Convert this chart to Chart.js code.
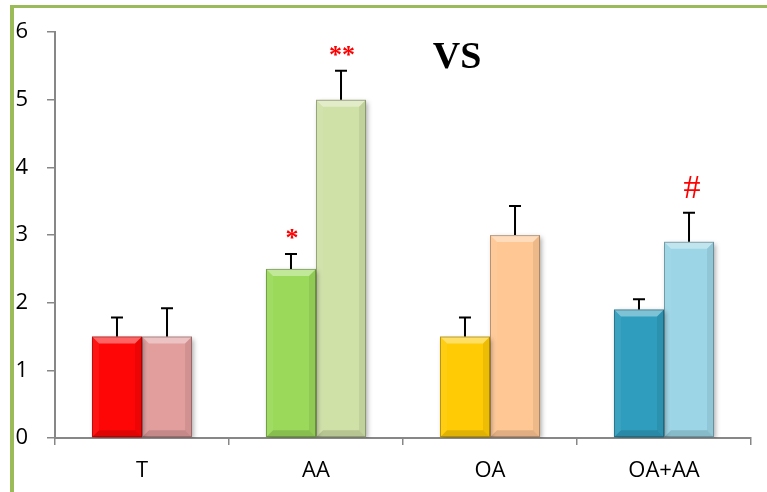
<!DOCTYPE html>
<html>
<head>
<meta charset="utf-8">
<title>VS</title>
<script src="https://cdn.jsdelivr.net/npm/chart.js@4"></script>
<style>
  html, body { margin: 0; padding: 0; background: #ffffff; }
  #wrap { position: relative; width: 767px; height: 492px; }
</style>
</head>
<body>
<div id="wrap"><canvas id="chart" width="767" height="492"></canvas></div>
<script>
// Groups along the x axis
const categories = ['T', 'AA', 'OA', 'OA+AA'];

// First bar of each group (saturated colour) and its error
const firstValues = [1.5, 2.5, 1.5, 1.9];
const firstErrors = [0.28, 0.22, 0.28, 0.15];
const firstMarks  = ['', '*', '', ''];

// Second bar of each group (pale colour) and its error
const secondValues = [1.5, 5.0, 3.0, 2.9];
const secondErrors = [0.42, 0.43, 0.43, 0.43];
const secondMarks  = ['', '**', '', '#'];

// Value axis ticks
const yTicks = [0, 1, 2, 3, 4, 5, 6];

const chartTitle = 'VS';

const firstColors  = ['#ff0606', '#9bd95a', '#ffcb05', '#2f9dbd'];
const secondColors = ['#e29d9d', '#d0e1a7', '#ffc794', '#9bd5e6'];

const AXIS_GREY = '#878787';
const BORDER_GREEN = '#9bbb59';

// Green frame lines along the top and left of the figure
const framePlugin = {
  id: 'frame',
  beforeDraw(chart) {
    const ctx = chart.ctx;
    ctx.save();
    ctx.fillStyle = '#ffffff';
    ctx.fillRect(0, 0, chart.width, chart.height);
    ctx.fillStyle = BORDER_GREEN;
    ctx.fillRect(10, 5, chart.width - 10, 3);
    ctx.fillRect(10, 5, 4, chart.height - 5);
    ctx.restore();
  }
};

// Soft drop shadow under the bars
const shadowPlugin = {
  id: 'barShadow',
  beforeDatasetsDraw(chart) {
    const ctx = chart.ctx;
    ctx.save();
    ctx.shadowColor = 'rgba(0,0,0,0.35)';
    ctx.shadowBlur = 5;
    ctx.shadowOffsetX = 2;
    ctx.shadowOffsetY = 2;
  },
  afterDatasetsDraw(chart) {
    chart.ctx.restore();
  }
};

// Bevelled faces, error bars and significance marks
const decorPlugin = {
  id: 'decor',
  afterDatasetsDraw(chart) {
    const ctx = chart.ctx;
    const yScale = chart.scales.y;
    const errorSets = [firstErrors, secondErrors];
    const valueSets = [firstValues, secondValues];
    const markSets = [firstMarks, secondMarks];

    chart.data.datasets.forEach((ds, di) => {
      const meta = chart.getDatasetMeta(di);
      meta.data.forEach((bar, i) => {
        const w = bar.width;
        const L = bar.x - w / 2, R = bar.x + w / 2;
        const T = bar.y, B = bar.base;
        const b = 7;
        ctx.save();
        // top bevel (lit)
        ctx.fillStyle = 'rgba(255,255,255,0.38)';
        ctx.beginPath();
        ctx.moveTo(L, T); ctx.lineTo(R, T); ctx.lineTo(R - b, T + b); ctx.lineTo(L + b, T + b);
        ctx.closePath(); ctx.fill();
        // left bevel
        ctx.fillStyle = 'rgba(255,255,255,0.06)';
        ctx.beginPath();
        ctx.moveTo(L, T); ctx.lineTo(L + b, T + b); ctx.lineTo(L + b, B - b); ctx.lineTo(L, B);
        ctx.closePath(); ctx.fill();
        // right bevel
        ctx.fillStyle = 'rgba(0,0,0,0.07)';
        ctx.beginPath();
        ctx.moveTo(R, T); ctx.lineTo(R - b, T + b); ctx.lineTo(R - b, B - b); ctx.lineTo(R, B);
        ctx.closePath(); ctx.fill();
        // bottom bevel (shaded)
        ctx.fillStyle = 'rgba(0,0,0,0.12)';
        ctx.beginPath();
        ctx.moveTo(L, B); ctx.lineTo(R, B); ctx.lineTo(R - b, B - b); ctx.lineTo(L + b, B - b);
        ctx.closePath(); ctx.fill();
        // outline
        ctx.strokeStyle = 'rgba(0,0,0,0.28)';
        ctx.lineWidth = 1;
        ctx.strokeRect(L + 0.5, T + 0.5, w - 1, B - T - 1);
        ctx.restore();

        // error bar
        const v = valueSets[di][i];
        const e = errorSets[di][i];
        const yTop = yScale.getPixelForValue(v + e);
        ctx.save();
        ctx.strokeStyle = '#000000';
        ctx.lineWidth = 2;
        ctx.beginPath();
        ctx.moveTo(bar.x, T);
        ctx.lineTo(bar.x, yTop);
        ctx.moveTo(bar.x - 6, yTop);
        ctx.lineTo(bar.x + 6, yTop);
        ctx.stroke();
        ctx.restore();

        // significance mark
        const mark = markSets[di][i];
        if (mark) {
          ctx.save();
          ctx.fillStyle = '#ff0000';
          ctx.textAlign = 'center';
          ctx.textBaseline = 'alphabetic';
          if (mark === '#') {
            ctx.font = '34px "Liberation Serif", serif';
            ctx.fillText(mark, bar.x + 3, yTop - 15);
          } else {
            ctx.font = 'bold 26px "Liberation Serif", serif';
            ctx.fillText(mark, bar.x + 1, yTop - 8);
          }
          ctx.restore();
        }
      });
    });

    // title
    ctx.save();
    ctx.fillStyle = '#000000';
    ctx.font = 'bold 38px "Liberation Serif", serif';
    ctx.textAlign = 'center';
    ctx.textBaseline = 'alphabetic';
    ctx.fillText(chartTitle, 457, 68);
    ctx.restore();
  }
};

new Chart(document.getElementById('chart'), {
  type: 'bar',
  data: {
    labels: categories,
    datasets: [
      {
        data: firstValues,
        backgroundColor: firstColors,
        borderWidth: 0,
        categoryPercentage: 0.575,
        barPercentage: 1.0
      },
      {
        data: secondValues,
        backgroundColor: secondColors,
        borderWidth: 0,
        categoryPercentage: 0.575,
        barPercentage: 1.0
      }
    ]
  },
  options: {
    responsive: false,
    animation: false,
    devicePixelRatio: 1,
    layout: { padding: { left: 14, right: 16, top: 31, bottom: 8 } },
    plugins: {
      legend: { display: false },
      tooltip: { enabled: false },
      title: { display: false }
    },
    scales: {
      x: {
        offset: true,
        grid: {
          offset: true,
          drawOnChartArea: false,
          drawTicks: true,
          tickLength: 7,
          color: AXIS_GREY,
          lineWidth: 1.5
        },
        border: { display: true, color: AXIS_GREY, width: 2 },
        ticks: {
          color: '#000000',
          padding: 13,
          font: { family: '"Open Sans", sans-serif', size: 22 }
        },
        afterFit(scale) { scale.height = 46; }
      },
      y: {
        min: yTicks[0],
        max: yTicks[yTicks.length - 1],
        afterBuildTicks(scale) { scale.ticks = yTicks.map(v => ({ value: v })); },
        grid: {
          drawOnChartArea: false,
          drawTicks: true,
          tickLength: 8,
          color: AXIS_GREY,
          lineWidth: 1.5
        },
        border: { display: true, color: AXIS_GREY, width: 2 },
        ticks: {
          color: '#000000',
          padding: 19,
          font: { family: '"Open Sans", sans-serif', size: 22 }
        },
        afterFit(scale) { scale.width = 41; }
      }
    }
  },
  plugins: [framePlugin, shadowPlugin, decorPlugin]
});
</script>
</body>
</html>
